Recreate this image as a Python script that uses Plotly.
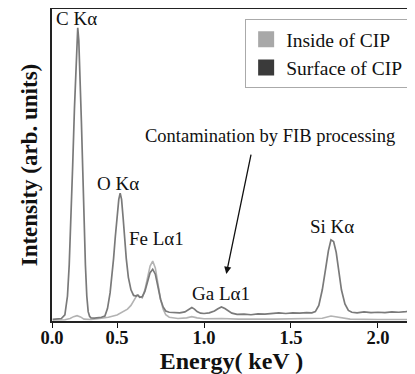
import plotly.graph_objects as go

# Energy axis (keV) and intensities (arb. units)
surface_energy = [0.13, 0.16, 0.18, 0.20, 0.215, 0.225, 0.235, 0.245, 0.255, 0.262, 0.268, 0.274,
                  0.280, 0.287, 0.295, 0.303, 0.310, 0.318, 0.326, 0.334, 0.342, 0.35, 0.37, 0.39,
                  0.41, 0.43, 0.445, 0.46, 0.47, 0.48, 0.49, 0.50, 0.51, 0.518, 0.526, 0.535,
                  0.545, 0.553, 0.565, 0.58, 0.595, 0.61, 0.62, 0.63, 0.645, 0.66, 0.675, 0.69,
                  0.705, 0.72, 0.735, 0.75, 0.765, 0.78, 0.80, 0.83, 0.86, 0.89, 0.91, 0.93,
                  0.945, 0.96, 0.98, 1.00, 1.03, 1.06, 1.08, 1.10, 1.12, 1.14, 1.16, 1.19,
                  1.23, 1.27, 1.31, 1.35, 1.39, 1.43, 1.47, 1.51, 1.55, 1.59, 1.62, 1.64,
                  1.66, 1.68, 1.70, 1.715, 1.73, 1.745, 1.76, 1.775, 1.79, 1.81, 1.83, 1.85,
                  1.88, 1.92, 1.96, 2.00, 2.04, 2.08, 2.12, 2.16, 2.19]
surface_values = [0.5, 0.6, 0.8, 2, 8, 18, 32, 50, 68, 80, 89, 94,
                  90, 80, 64, 48, 32, 18, 8, 3, 1.5, 1.0, 0.9, 1.0,
                  1.2, 1.6, 4, 9, 14, 20, 27, 34, 39, 41, 39, 33,
                  25, 20, 14, 10, 8.2, 8.0, 8.3, 7.6, 7.8, 9.5, 12.5, 15.5,
                  16.6, 15, 11, 7, 4.5, 3.2, 2.8, 2.8, 2.6, 2.9, 3.6, 4.3,
                  3.8, 3.0, 2.5, 2.4, 2.6, 3.2, 3.9, 4.5, 4.0, 3.2, 2.5, 2.1,
                  2.2, 2.0, 2.3, 2.2, 2.4, 2.6, 2.4, 2.6, 2.5, 2.7, 2.6, 3.0,
                  5, 10, 17, 22.5, 26, 25.5, 22, 16, 10, 5.5, 3.4, 2.8,
                  2.6, 2.9, 2.7, 2.8, 2.7, 2.9, 2.8, 3.0, 3.2]

inside_energy = [0.13, 0.20, 0.23, 0.25, 0.27, 0.29, 0.31, 0.35, 0.40, 0.45, 0.50, 0.53,
                 0.56, 0.58, 0.60, 0.615, 0.63, 0.645, 0.66, 0.675, 0.69, 0.705, 0.72, 0.735,
                 0.75, 0.765, 0.78, 0.80, 0.85, 0.90, 0.93, 0.96, 1.00, 1.10, 1.20, 1.40,
                 1.60, 1.68, 1.73, 1.78, 1.84, 2.00, 2.19]
inside_values = [0.3, 0.4, 0.8, 1.4, 1.7, 1.3, 0.6, 0.5, 0.8, 1.2, 1.9, 2.8,
                 3.8, 5, 6.8, 8.3, 7.8, 7.4, 10, 14, 17.6, 19.2, 17, 12,
                 7, 3.8, 2.0, 1.2, 0.8, 1.0, 1.4, 1.0, 0.7, 0.8, 0.6, 0.6,
                 0.7, 0.9, 1.6, 1.1, 0.6, 0.5, 0.5]

tick_values = [0.126, 0.5, 1.0, 1.5, 2.0]
tick_labels = ["0.0", "0.5", "1.0", "1.5", "2.0"]

series_names = ["Inside of CIP", "Surface of CIP"]
legend_colors = ["#a8a8a8", "#3a3a3a"]

peak_labels = ["C Kα", "O Kα", "Fe Lα1", "Ga Lα1", "Si Kα"]
peak_label_x = [0.266, 0.505, 0.726, 1.099, 1.733]
peak_label_y = [96.8, 44.2, 26.3, 8.7, 30.4]

SERIF = "Liberation Serif, Times New Roman, serif"

fig = go.Figure()
fig.add_trace(go.Scatter(x=inside_energy, y=inside_values, mode="lines",
                         line=dict(color="#b3b3b3", width=1.6), showlegend=False))
fig.add_trace(go.Scatter(x=surface_energy, y=surface_values, mode="lines",
                         line=dict(color="#7a7a7a", width=1.7), showlegend=False))
for name, col in zip(series_names, legend_colors):
    fig.add_trace(go.Scatter(x=[None], y=[None], mode="markers", name=name,
                             marker=dict(symbol="square", size=16, color=col,
                                         line=dict(width=0))))

for txt, px, py in zip(peak_labels, peak_label_x, peak_label_y):
    fig.add_annotation(x=px, y=py, xref="x", yref="y", text=txt, showarrow=False,
                       font=dict(family=SERIF, size=19, color="#111"))

fig.add_annotation(x=1.381, y=59.3, xref="x", yref="y", text="Contamination by FIB processing",
                   showarrow=False, font=dict(family=SERIF, size=18.5, color="#111"))
fig.add_annotation(x=1.128, y=15.1, ax=1.272, ay=53.8, xref="x", yref="y", axref="x", ayref="y",
                   text="", showarrow=True, arrowhead=2, arrowsize=1.1, arrowwidth=1.3,
                   arrowcolor="#111")

# The page body adds an 8px offset, so the figure is sized to the remaining area
fig.update_layout(
    width=407, height=366,
    margin=dict(l=44, r=4, t=1, b=53),
    paper_bgcolor="white", plot_bgcolor="white",
    font=dict(family=SERIF, color="#111"),
    legend=dict(x=0.538, y=0.968, xanchor="left", yanchor="top",
                bordercolor="#aaaaaa", borderwidth=1, bgcolor="white",
                font=dict(family=SERIF, size=19.5, color="#111"),
                itemsizing="trace", tracegroupgap=2),
    xaxis=dict(range=[0.126, 2.19], tickvals=tick_values, ticktext=tick_labels,
               ticks="outside", ticklen=5, tickwidth=1.3, tickcolor="#111",
               ticklabelstandoff=-6,
               showline=True, linecolor="#222", linewidth=1.5, mirror=True,
               showgrid=False, zeroline=False, automargin=False,
               tickfont=dict(family=SERIF, size=18.5, color="#111", weight="bold"),
               title=dict(text="<b>Energy( keV )</b>", standoff=4,
                          font=dict(family=SERIF, size=24, color="#111"))),
    yaxis=dict(range=[0, 100], showticklabels=False, ticks="",
               showline=True, linecolor="#222", linewidth=1.5, mirror=True,
               showgrid=False, zeroline=False, automargin=False,
               title=dict(text="<b>Intensity (arb. units)</b>", standoff=6,
                          font=dict(family=SERIF, size=23, color="#111"))),
)

fig.write_html("out.html")
